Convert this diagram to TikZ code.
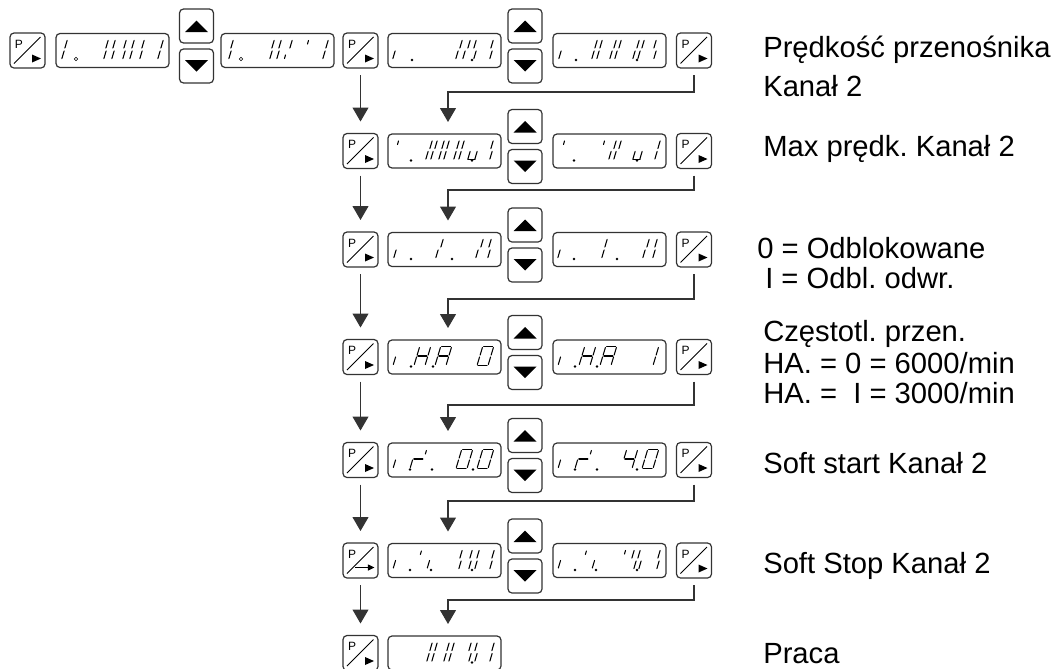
\documentclass[tikz,border=0pt]{standalone}
\usepackage{fontspec}
\setmainfont{Liberation Sans}
\usetikzlibrary{arrows.meta, calc, positioning}
\frenchspacing

% faces of the keys
\newcommand{\pface}[1]{%
    \node (#1-p) [keyletter] at ($(#1.north west)+(9,11)$) {P};
    \draw [keyline] ($(#1.north west)+(4,30.5)$) -- ($(#1.north west)+(30.5,4)$);
    \fill ($(#1.north west)+(22,21.5)$) -- ++(9,4) -- ++(-9,4) -- cycle;
}
\newcommand{\pfacearrow}[1]{%
    \node (#1-p) [keyletter] at ($(#1.north west)+(9,11)$) {P};
    \draw [keyline] ($(#1.north west)+(4,30.5)$) -- ($(#1.north west)+(30.5,4)$);
    \draw [line width=1pt, -{Triangle[width=4.5pt,length=5pt]}] ($(#1.north west)+(12,24.5)$) -- ++(19.5,0);
}
\newcommand{\upface}[1]{\fill ($(#1.north west)+(17,11.5)$) -- ($(#1.north west)+(28.5,23)$) -- ($(#1.north west)+(5.5,23)$) -- cycle;}
\newcommand{\dnface}[1]{\fill ($(#1.north west)+(5.5,11)$) -- ($(#1.north west)+(28.5,11)$) -- ($(#1.north west)+(17,22.5)$) -- cycle;}

% lcd strokes, x measured from the left edge of the display
\newcommand{\lcdtop}[2]{\foreach \sx in {#2} {\draw [lcd] ($(#1.north west)+(\sx-1.1,14.5)$) -- ++(2.2,-7.5);}}
\newcommand{\lcdbot}[2]{\foreach \sx in {#2} {\draw [lcd] ($(#1.north west)+(\sx-1.1,25)$) -- ++(2.2,-7.5);}}
\newcommand{\lcdtick}[2]{\foreach \sx in {#2} {\draw [lcd] ($(#1.north west)+(\sx-0.5,10.5)$) -- ++(1,-3.5);}}
\newcommand{\lcdbottick}[2]{\foreach \sx in {#2} {\draw [lcd] ($(#1.north west)+(\sx-0.5,25)$) -- ++(1,-3.5);}}
\newcommand{\lcdbar}[3]{\draw [lcd] ($(#1.north west)+(#2,25.5)$) -- ($(#1.north west)+(#3,25.5)$);}
\newcommand{\lcddots}[2]{\foreach \sx in {#2} {\fill ($(#1.north west)+(\sx,26.5)$) circle (1.1pt);}}
\newcommand{\lcdrings}[2]{\foreach \sx in {#2} {\draw [line width=0.5pt] ($(#1.north west)+(\sx,25.5)$) circle (1.3pt);}}

% seven segment digit: a..g, F/B = short upper strokes
\newcommand{\lcdsega}{\draw [lcd] (1,-19) -- (10,-19);}
\newcommand{\lcdsegb}{\draw [lcd] (11,-18) -- (11,-10.5);}
\newcommand{\lcdsegc}{\draw [lcd] (11,-8.5) -- (11,-1);}
\newcommand{\lcdsegd}{\draw [lcd] (1,0) -- (10,0);}
\newcommand{\lcdsege}{\draw [lcd] (0,-8.5) -- (0,-1);}
\newcommand{\lcdsegf}{\draw [lcd] (0,-18) -- (0,-10.5);}
\newcommand{\lcdsegg}{\draw [lcd] (1,-9.5) -- (10,-9.5);}
\newcommand{\lcdsegB}{\draw [lcd] (11,-18) -- (11,-14.5);}
\newcommand{\lcdsegF}{\draw [lcd] (0,-18) -- (0,-14.5);}
\newcommand{\lcddigit}[3]{%
    \begin{scope}[shift={($(#1.north west)+(#2,25.5)$)}, xslant=0.3]
        \foreach \s in {#3} {\csname lcdseg\s\endcsname}
    \end{scope}
}

\begin{document}
\begin{tikzpicture}[x=0.75pt, y=-0.75pt]
    \def\px{0.75pt}
    \tikzstyle{pkey} = [draw=black!80, line width=0.9pt, rounded corners=3pt, minimum width=35*\px, minimum height=35*\px, inner sep=0pt, outer sep=0pt]
    \tikzstyle{arrowkey} = [pkey, minimum width=34*\px, minimum height=34*\px]
    \tikzstyle{lcdbox} = [pkey, minimum width=113*\px, minimum height=34*\px]
    \tikzstyle{keyletter} = [inner sep=0pt, font=\fontsize{9}{9}\selectfont]
    \tikzstyle{keyline} = [line width=0.7pt]
    \tikzstyle{lcd} = [line width=0.8pt, line cap=round]
    \tikzstyle{flow} = [draw=black!80, line width=0.8pt, -{Triangle[width=12pt,length=10.5pt]}, shorten <=5.25pt, shorten >=9pt]
    \tikzstyle{note} = [anchor=base west, inner sep=0pt, font=\fontsize{21.9}{26}\selectfont]

    \useasboundingbox (0,0) rectangle (1056,668);
    \clip (0,0) rectangle (1056,668);

    % first row, left part
    \node (kl) [pkey] at (27.5,50.5) {};
    \pface{kl}
    \node (dl-1) [lcdbox] at (112.5,50.5) {};
    \node (ul) [arrowkey] at (196.5,26) {};
    \node (dnl) [arrowkey] at (196.5,66) {};
    \upface{ul} \dnface{dnl}
    \node (dl-2) [lcdbox] at (277.5,50.5) {};

    \def\rowY{{50.5,151,249.5,357,460,560.5,653}}
    \def\bendY{{92,190,299,405,501,600}}

    \foreach \r in {1,...,7} {
        \pgfmathsetmacro{\ry}{\rowY[\r-1]}
        \node (kp-\r) [pkey] at (360.5,\ry) {};
        \node (dc-\r) [lcdbox] at (444.5,\ry) {};
        \ifnum\r=6 \pfacearrow{kp-\r} \else \pface{kp-\r} \fi
        % last row has no second display
        \ifnum\r<7
            \node (up-\r) [arrowkey] at (525,\ry-24.5) {};
            \node (dn-\r) [arrowkey] at (525,\ry+15.5) {};
            \upface{up-\r} \dnface{dn-\r}
            \node (dd-\r) [lcdbox] at (609.5,\ry) {};
            \node (kq-\r) [pkey] at (694,\ry) {};
            \pface{kq-\r}
        \fi
    }

    \foreach \r in {1,...,6} {
        \pgfmathtruncatemacro{\n}{\r+1}
        \pgfmathsetmacro{\by}{\bendY[\r-1]}
        \coordinate (bend-\r) at (448,\by);
        % down to the next P key
        \draw [flow] (kp-\r) -- (kp-\n);
        % back from the right P key to the next display
        \draw [flow] (kq-\r.south) |- (bend-\r) -- (bend-\r |- dc-\n.north);
    }

    % display contents
    \lcdtop{dl-1}{10,51,58,69,77,87,106} \lcdbot{dl-1}{7,49,57,68,75,85,103} \lcdrings{dl-1}{20}
    \lcdtop{dl-2}{11,52,59,70,106} \lcdtick{dl-2}{87} \lcdbot{dl-2}{9,50,57,103} \lcdbottick{dl-2}{64} \lcdrings{dl-2}{20}
    \lcdtop{dc-1}{73,81,87,104} \lcdbot{dc-1}{6,69,76,87,103} \lcddots{dc-1}{24,84}
    \lcdtop{dd-1}{43,48,62,67,85,90,102} \lcdbot{dd-1}{7,40,45,58,63,81,86,102} \lcddots{dd-1}{23,84}

    \lcdtick{dc-2}{10} \lcdtop{dc-2}{43,48,55,60,70,75,104} \lcdbot{dc-2}{39,44,52,57,67,72,81,88,103} \lcdbar{dc-2}{80}{87} \lcddots{dc-2}{23,84}
    \lcdtick{dd-2}{11,51} \lcdtop{dd-2}{62,67,106} \lcdbot{dd-2}{57,62,81,88,103} \lcdbar{dd-2}{80}{87} \lcddots{dd-2}{21,84}

    \lcdtop{dc-3}{54,94,102} \lcdbot{dc-3}{7,49,89,101} \lcddots{dc-3}{23,64}
    \lcdtop{dd-3}{53,95,103} \lcdbot{dd-3}{6,50,91,101} \lcddots{dd-3}{21,64}

    \lcddigit{dc-4}{5}{e} \lcddigit{dc-4}{26}{b,c,e,f,g} \lcddigit{dc-4}{47}{a,b,c,e,f,g} \lcddigit{dc-4}{89}{a,b,c,d,e,f} \lcddots{dc-4}{23,45}
    \lcddigit{dd-4}{5}{e} \lcddigit{dd-4}{26}{b,c,e,f,g} \lcddigit{dd-4}{47}{a,b,c,e,f,g} \lcddigit{dd-4}{89}{b,c} \lcddots{dd-4}{22,44}

    \lcddigit{dc-5}{5}{e} \lcddigit{dc-5}{22}{e,g,B} \lcddigit{dc-5}{68}{a,b,c,d,e,f} \lcddigit{dc-5}{89}{a,b,c,d,e,f} \lcddots{dc-5}{22,44,85}
    \lcddigit{dd-5}{5}{e} \lcddigit{dd-5}{22}{e,g,B} \lcddigit{dd-5}{68}{b,c,f,g} \lcddigit{dd-5}{89}{a,b,c,d,e,f} \lcddots{dd-5}{22,44,84}

    \lcddigit{dc-6}{5}{e} \lcddigit{dc-6}{28}{F,c} \lcdtop{dc-6}{73,83,90,105} \lcdbot{dc-6}{72,82,88,103} \lcddots{dc-6}{22,43,84}
    \lcddigit{dd-6}{5}{e} \lcddigit{dd-6}{28}{F,c} \lcdtick{dd-6}{72} \lcdtop{dd-6}{80,86,106} \lcdbot{dd-6}{82,87,105} \lcddots{dd-6}{22,43,84}

    \lcdtop{dc-7}{43,48,60,65,82,88,105} \lcdbot{dc-7}{40,45,57,62,82,88,103} \lcddots{dc-7}{84}

    % notes on the right
    \node (t-1a) [note] at (763,57) {Prędkość przenośnika};
    \node (t-1b) [note] at (763,96) {Kanał 2};
    \node (t-2) [note] at (763,156) {Max prędk. Kanał 2};
    \node (t-3a) [note] at (757,258) {0 = Odblokowane};
    \node (t-3b) [note] at (765,288) {I = Odbl. odwr.};
    \node (t-4a) [note] at (763,341) {Częstotl. przen.};
    \node (t-4b) [note] at (763,373) {HA. = 0 = 6000/min};
    \node (t-4c) [note] at (763,403) {HA. =\ \ I = 3000/min};
    \node (t-5) [note] at (763,473) {Soft start Kanał 2};
    \node (t-6) [note] at (763,573) {Soft Stop Kanał 2};
    \node (t-7) [note] at (763,663) {Praca};
\end{tikzpicture}
\end{document}
